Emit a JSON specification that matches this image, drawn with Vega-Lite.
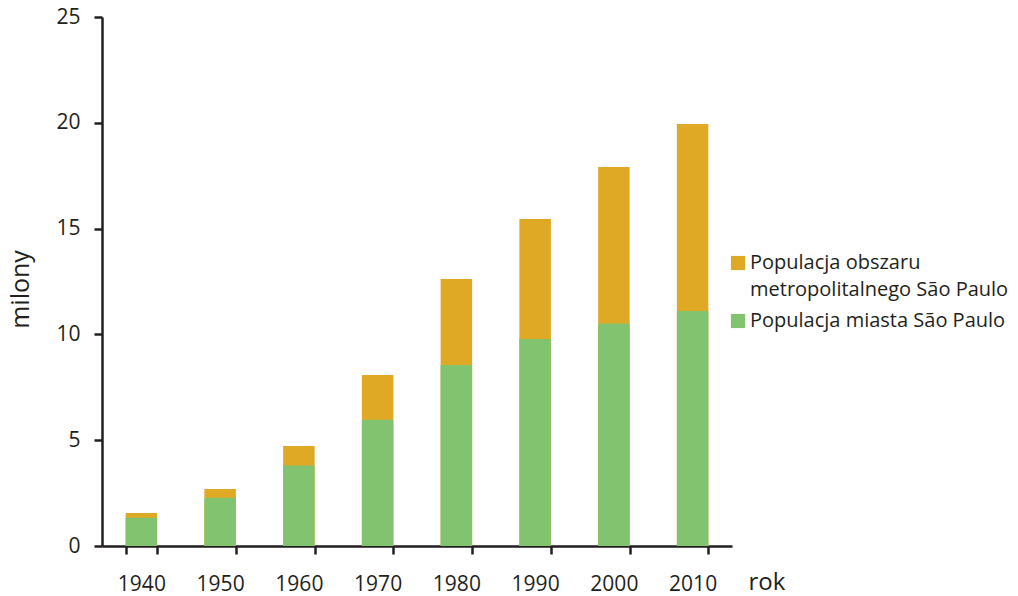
{
  "$schema": "https://vega.github.io/schema/vega-lite/v6.json",
  "width": 630,
  "height": 529,
  "autosize": "none",
  "padding": {"left": 102, "top": 17, "right": 286, "bottom": 50},
  "background": "white",
  "data": {
    "values": [
      {"rok": "1940", "seria": "Populacja obszaru metropolitalnego São Paulo", "milony": 1.56},
      {"rok": "1950", "seria": "Populacja obszaru metropolitalnego São Paulo", "milony": 2.69},
      {"rok": "1960", "seria": "Populacja obszaru metropolitalnego São Paulo", "milony": 4.73},
      {"rok": "1970", "seria": "Populacja obszaru metropolitalnego São Paulo", "milony": 8.08},
      {"rok": "1980", "seria": "Populacja obszaru metropolitalnego São Paulo", "milony": 12.62},
      {"rok": "1990", "seria": "Populacja obszaru metropolitalnego São Paulo", "milony": 15.45},
      {"rok": "2000", "seria": "Populacja obszaru metropolitalnego São Paulo", "milony": 17.91},
      {"rok": "2010", "seria": "Populacja obszaru metropolitalnego São Paulo", "milony": 19.94},
      {"rok": "1940", "seria": "Populacja miasta São Paulo", "milony": 1.34},
      {"rok": "1950", "seria": "Populacja miasta São Paulo", "milony": 2.28},
      {"rok": "1960", "seria": "Populacja miasta São Paulo", "milony": 3.8},
      {"rok": "1970", "seria": "Populacja miasta São Paulo", "milony": 5.97},
      {"rok": "1980", "seria": "Populacja miasta São Paulo", "milony": 8.55},
      {"rok": "1990", "seria": "Populacja miasta São Paulo", "milony": 9.78},
      {"rok": "2000", "seria": "Populacja miasta São Paulo", "milony": 10.51},
      {"rok": "2010", "seria": "Populacja miasta São Paulo", "milony": 11.1}
    ]
  },
  "mark": {"type": "bar"},
  "encoding": {
    "x": {
      "field": "rok",
      "type": "nominal",
      "scale": {"paddingInner": 0.6, "paddingOuter": 0.3},
      "axis": {
        "title": "rok",
        "labelAngle": 0,
        "tickBand": "extent",
        "tickSize": 8,
        "tickWidth": 2.5,
        "tickColor": "#231f20",
        "domainColor": "#231f20",
        "domainWidth": 2.5,
        "labelPadding": 19,
        "labelFontSize": 21,
        "labelFont": "Open Sans",
        "labelColor": "#231f20",
        "titleFont": "Open Sans",
        "titleFontSize": 24,
        "titleFontWeight": "normal",
        "titleColor": "#231f20",
        "titleX": 646,
        "titleY": 43,
        "titleAlign": "left",
        "titleBaseline": "alphabetic"
      }
    },
    "y": {
      "field": "milony",
      "type": "quantitative",
      "stack": null,
      "scale": {"domain": [0, 25], "nice": false},
      "axis": {
        "title": "milony",
        "values": [0, 5, 10, 15, 20, 25],
        "grid": false,
        "tickSize": 8,
        "tickWidth": 2.5,
        "tickColor": "#231f20",
        "domainColor": "#231f20",
        "domainWidth": 2.5,
        "labelPadding": 14,
        "labelFontSize": 21,
        "labelFont": "Open Sans",
        "labelColor": "#231f20",
        "titleFont": "Open Sans",
        "titleFontSize": 25,
        "titleFontWeight": "normal",
        "titleColor": "#231f20",
        "titleX": -82,
        "titleY": 272,
        "titleAngle": -90,
        "titleAlign": "center",
        "titleBaseline": "middle"
      }
    },
    "color": {
      "field": "seria",
      "type": "nominal",
      "scale": {
        "domain": ["Populacja obszaru metropolitalnego São Paulo", "Populacja miasta São Paulo"],
        "range": ["#e0a925", "#82c36f"]
      },
      "legend": {
        "title": null,
        "orient": "none",
        "legendX": 626,
        "legendY": 236,
        "symbolType": "square",
        "symbolSize": 200,
        "symbolStrokeWidth": 0,
        "symbolOpacity": 1,
        "labelFont": "Open Sans",
        "labelFontSize": 20,
        "labelColor": "#231f20",
        "labelOffset": 2,
        "labelLimit": 400,
        "rowPadding": 11,
        "labelExpr": "datum.label == 'Populacja obszaru metropolitalnego São Paulo' ? ['Populacja obszaru', 'metropolitalnego São Paulo'] : datum.label",
        "encode": {
          "labels": {"update": {"lineHeight": {"value": 27}}}
        }
      }
    }
  },
  "config": {
    "view": {"stroke": null},
    "axis": {"labelFlush": false, "labelOverlap": false}
  }
}
